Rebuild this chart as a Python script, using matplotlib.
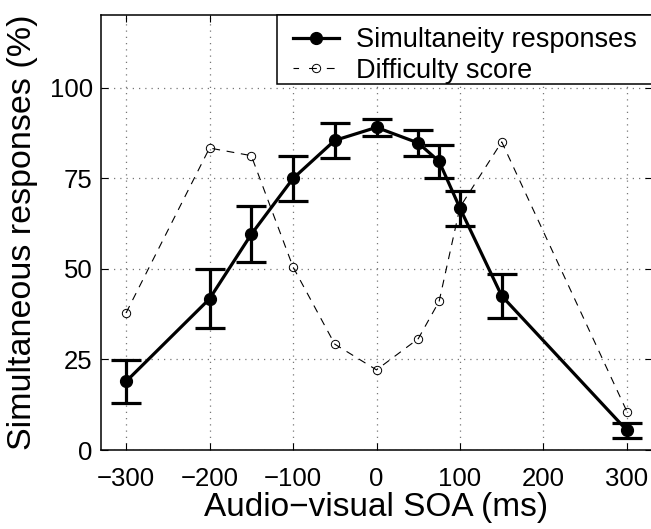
import matplotlib
matplotlib.use("Agg")
import matplotlib.pyplot as plt
from matplotlib.patches import Rectangle

plt.rcParams['font.family'] = ['Liberation Sans', 'DejaVu Sans']

soa = [-300, -200, -150, -100, -50, 0, 50, 75, 100, 150, 300]
simult = [18.9, 41.7, 59.5, 74.9, 85.4, 89.0, 84.7, 79.6, 66.7, 42.5, 5.4]
simult_err = [6.0, 8.1, 7.7, 6.3, 4.9, 2.3, 3.6, 4.5, 4.8, 6.0, 2.0]
difficulty = [37.8, 83.3, 81.2, 50.5, 29.2, 22.1, 30.7, 41.0, 67.0, 85.0, 10.6]

xticks = [-300, -200, -100, 0, 100, 200, 300]
yticks = [0, 25, 50, 75, 100]

fig = plt.figure(figsize=(6.51, 5.29), dpi=100)
ax = fig.add_axes([101/651, 79/529, 551/651, 435/529])

ax.plot(soa, difficulty, linestyle=(0, (7, 6)), color='black', linewidth=0.8,
        marker='o', markersize=6, markerfacecolor='none', markeredgewidth=0.7,
        label='Difficulty score', zorder=2)
ax.errorbar(soa, simult, yerr=simult_err, color='black', linewidth=2.3,
            elinewidth=2.3, capsize=11, capthick=2.3, marker='o', markersize=8.5,
            zorder=3)
h1, = ax.plot([], [], color='black', linewidth=2.3, marker='o', markersize=8.5,
              label='Simultaneity responses')
h2, = ax.plot([], [], linestyle=(2, (7, 9)), color='black', linewidth=0.8,
              marker='o', markersize=6, markerfacecolor='none',
              markeredgewidth=0.7, label='Difficulty score')

ax.set_xlim(-330, 330)
ax.set_ylim(0, 120)
ax.set_xticks(xticks)
ax.set_yticks(yticks)
ax.grid(True, linestyle=(0, (1, 4)), color='#777777', linewidth=0.9)
ax.set_axisbelow(True)
ax.tick_params(direction='in', length=5, width=0.8, top=True, right=True,
               labelsize=18.5)
ax.tick_params(axis='x', pad=12)
ax.tick_params(axis='y', pad=6)
for s in ax.spines.values():
    s.set_linewidth(1.1)

ax.set_xlabel('Audio\u2212visual SOA (ms)', fontsize=24, labelpad=1)
ax.set_ylabel('Simultaneous responses (%)', fontsize=24.5, labelpad=8)

# legend frame (extends past the right edge of the figure)
frame = Rectangle((0.32, 0.841), 0.8, 0.159, transform=ax.transAxes,
                  facecolor='white', edgecolor='black', linewidth=1.1,
                  clip_on=False, zorder=5)
ax.add_patch(frame)

leg = ax.legend([h1, h2], ['Simultaneity responses', 'Difficulty score'],
                loc='upper left', bbox_to_anchor=(0.3265, 1.0), borderaxespad=0,
                fontsize=19.5, frameon=False, handlelength=1.7,
                handletextpad=0.63, labelspacing=0.15, borderpad=0.46)
leg.set_zorder(6)

fig.savefig('out.png', dpi=100)
